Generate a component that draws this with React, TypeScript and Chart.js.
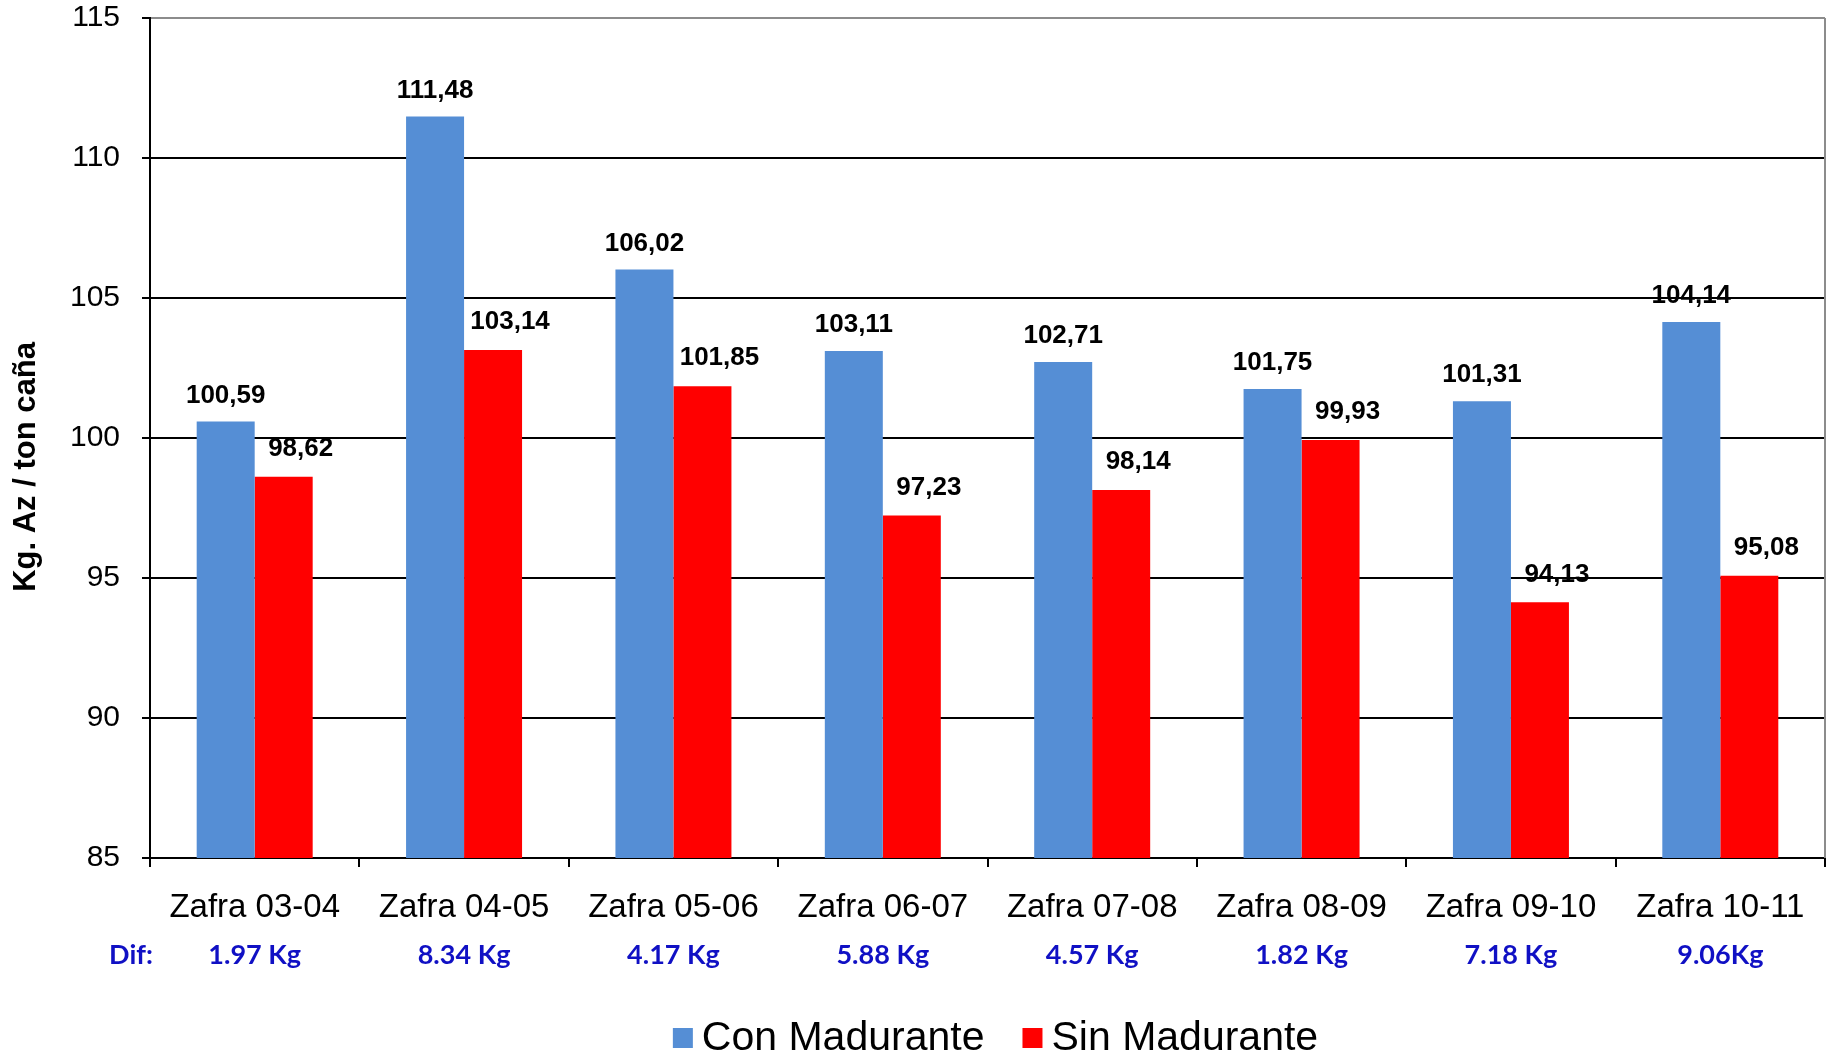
import React, { useEffect, useRef } from "react";
import { Chart, registerables } from "chart.js";

Chart.register(...registerables);

const categories = [
  "Zafra 03-04",
  "Zafra 04-05",
  "Zafra 05-06",
  "Zafra 06-07",
  "Zafra 07-08",
  "Zafra 08-09",
  "Zafra 09-10",
  "Zafra 10-11",
];
const conMadurante = [100.59, 111.48, 106.02, 103.11, 102.71, 101.75, 101.31, 104.14];
const sinMadurante = [98.62, 103.14, 101.85, 97.23, 98.14, 99.93, 94.13, 95.08];
const difLabels = ["1.97 Kg", "8.34 Kg", "4.17 Kg", "5.88 Kg", "4.57 Kg", "1.82 Kg", "7.18 Kg", "9.06Kg"];
const difTitle = "Dif:";
const seriesNames = ["Con Madurante", "Sin Madurante"];
const seriesColors = ["#558ED5", "#FF0000"];
const yMin = 85;
const yMax = 115;
const yStep = 5;
const yTitle = "Kg. Az / ton caña";

const FONT = "'Liberation Sans', Arial, sans-serif";

const extrasPlugin = {
  id: "extras",
  beforeDatasetsDraw(chart: any) {
    const { ctx, chartArea } = chart;
    ctx.save();
    ctx.strokeStyle = "#8c8c8c";
    ctx.lineWidth = 2;
    ctx.beginPath();
    ctx.moveTo(chartArea.right, chartArea.top);
    ctx.lineTo(chartArea.right, chartArea.bottom);
    ctx.stroke();
    ctx.restore();
  },
  afterDatasetsDraw(chart: any) {
    const { ctx } = chart;
    ctx.save();
    ctx.font = `bold 26px ${FONT}`;
    ctx.fillStyle = "#000";
    ctx.textAlign = "center";
    ctx.textBaseline = "middle";
    chart.data.datasets.forEach((ds: any, di: number) => {
      const meta = chart.getDatasetMeta(di);
      meta.data.forEach((bar: any, i: number) => {
        const v = ds.data[i] as number;
        const txt = v.toFixed(2).replace(".", ",");
        const dx = di === 1 ? 17 : 0;
        const dy = di === 1 ? 28 : 26;
        ctx.fillText(txt, bar.x + dx, bar.y - dy);
      });
    });
    ctx.restore();
  },
  afterDraw(chart: any) {
    const { ctx, chartArea } = chart;
    const xScale = chart.scales.x;
    ctx.save();
    // y-axis title
    ctx.save();
    ctx.translate(26, (chartArea.top + chartArea.bottom) / 2 + 29);
    ctx.rotate(-Math.PI / 2);
    ctx.font = `bold 31px ${FONT}`;
    ctx.fillStyle = "#000";
    ctx.textAlign = "center";
    ctx.textBaseline = "middle";
    ctx.fillText(yTitle, 0, 0);
    ctx.restore();
    // Dif row
    ctx.font = `bold 27px Lato, 'Open Sans', sans-serif`;
    ctx.fillStyle = "#1010C4";
    ctx.textAlign = "center";
    ctx.textBaseline = "middle";
    const difY = chartArea.bottom + 97;
    ctx.fillText(difTitle, chartArea.left - 19, difY);
    difLabels.forEach((t, i) => {
      ctx.fillText(t, xScale.getPixelForValue(i), difY);
    });
    // legend
    ctx.font = `41px ${FONT}`;
    ctx.textAlign = "left";
    ctx.fillStyle = "#000";
    const box = 20;
    const gapText = 9;
    const gapItem = 38;
    const widths = seriesNames.map((n) => ctx.measureText(n).width);
    const total =
      widths.reduce((a, b) => a + b, 0) + seriesNames.length * (box + gapText) + gapItem * (seriesNames.length - 1);
    let x = (chartArea.left + chartArea.right) / 2 + 8 - total / 2;
    const ly = chartArea.bottom + 180;
    seriesNames.forEach((n, i) => {
      ctx.fillStyle = seriesColors[i];
      ctx.fillRect(x, ly - box / 2, box, box);
      x += box + gapText;
      ctx.fillStyle = "#000";
      ctx.fillText(n, x, ly + 1);
      x += widths[i] + gapItem;
    });
    ctx.restore();
  },
};

export default function App() {
  const ref = useRef<HTMLCanvasElement | null>(null);

  useEffect(() => {
    document.body.style.margin = "0";
    const canvas = ref.current;
    if (!canvas) return;
    const chart = new Chart(canvas, {
      type: "bar",
      data: {
        labels: categories,
        datasets: [
          {
            label: seriesNames[0],
            data: conMadurante,
            backgroundColor: seriesColors[0],
            categoryPercentage: 0.554,
            barPercentage: 1,
          },
          {
            label: seriesNames[1],
            data: sinMadurante,
            backgroundColor: seriesColors[1],
            categoryPercentage: 0.554,
            barPercentage: 1,
          },
        ],
      },
      options: {
        responsive: false,
        animation: false,
        events: [],
        layout: { padding: { top: 18, right: 6, bottom: 46, left: 0 } },
        plugins: {
          legend: { display: false },
          tooltip: { enabled: false },
          title: { display: false },
        },
        scales: {
          x: {
            offset: true,
            grid: {
              drawOnChartArea: false,
              drawTicks: true,
              tickLength: 9,
              color: "#000",
              lineWidth: 2,
              offset: true,
            },
            border: { display: true, color: "#000", width: 2 },
            ticks: {
              color: "#000",
              font: { family: FONT, size: 33 },
              padding: 21,
              maxRotation: 0,
              autoSkip: false,
            },
            afterFit: (scale: any) => {
              scale.height = 154;
            },
          },
          y: {
            min: yMin,
            max: yMax,
            ticks: {
              stepSize: yStep,
              color: "#000",
              font: { family: FONT, size: 30 },
              padding: 22,
            },
            grid: {
              color: (c: any) => (c.tick && c.tick.value === yMax ? "#8c8c8c" : "#000"),
              tickColor: "#000",
              lineWidth: 2,
              drawTicks: true,
              tickLength: 8,
            },
            border: { display: true, color: "#000", width: 2 },
            title: { display: false },
            afterFit: (scale: any) => {
              scale.width = 150;
              scale.paddingTop = 0;
              scale.paddingBottom = 0;
            },
          },
        },
      },
      plugins: [extrasPlugin],
    });
    return () => chart.destroy();
  }, []);

  return (
    <div style={{ width: 1831, height: 1058, background: "#fff" }}>
      <canvas ref={ref} width={1831} height={1058} style={{ display: "block", width: 1831, height: 1058 }} />
    </div>
  );
}
